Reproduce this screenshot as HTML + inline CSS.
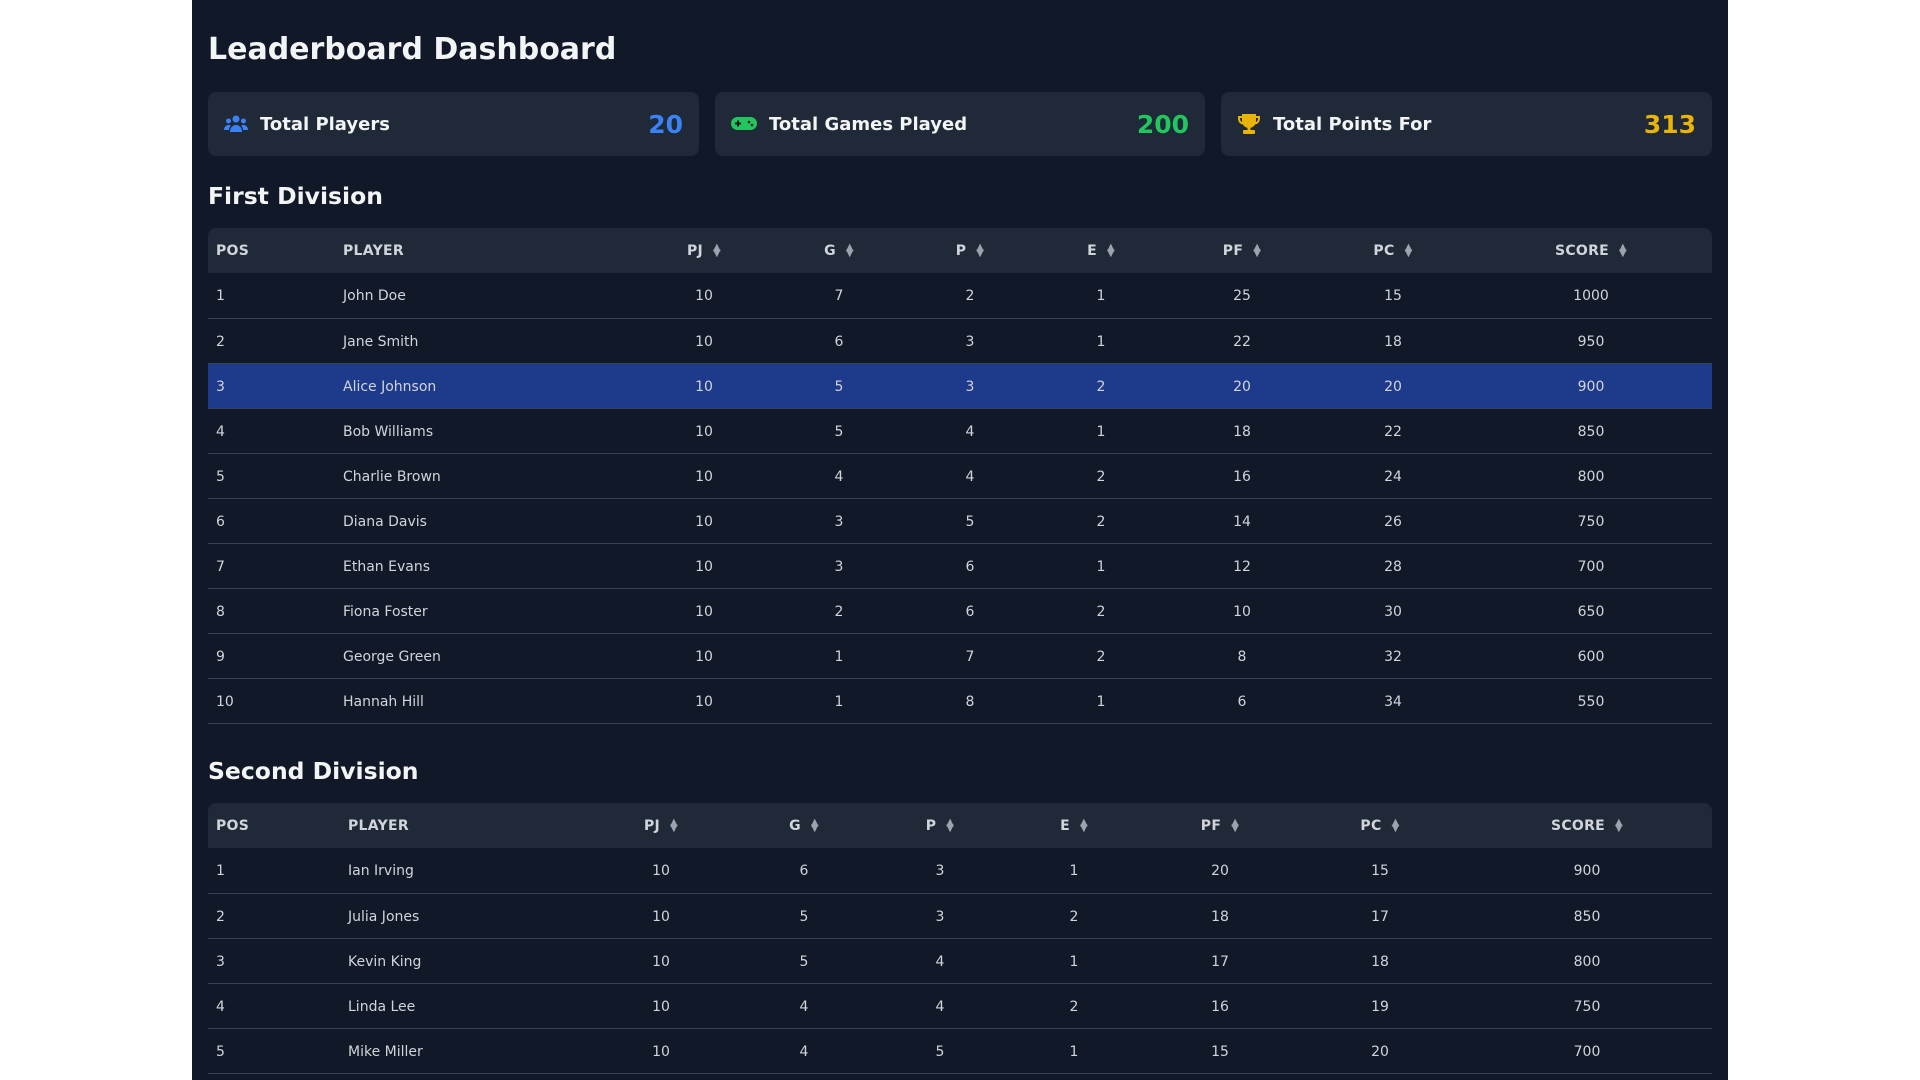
<!DOCTYPE html>
<html><head><meta charset="utf-8"><style>
*{box-sizing:border-box;margin:0;padding:0}
body{width:1920px;height:1080px;background:#fff;font-family:"DejaVu Sans","Liberation Sans",sans-serif;overflow:hidden;position:relative}
#wrap{position:absolute;left:192px;top:0;width:1536px;height:1080px;background:#111827;color:#f3f4f6}
h1{position:absolute;left:16px;top:31px;font-size:30px;font-weight:bold;line-height:38px;color:#f3f4f6}
.card{position:absolute;top:92px;height:64px;background:#1f2937;border-radius:8px;display:flex;align-items:center;padding:0 16px}
.card .lbl{font-size:18px;font-weight:bold;color:#f3f4f6;margin-left:12px;flex:1}
.card .val{font-size:25px;font-weight:bold}
h2{position:absolute;left:16px;font-size:23.5px;font-weight:bold;line-height:30px;color:#f3f4f6}
table{position:absolute;left:16px;width:1504px;border-collapse:collapse;table-layout:fixed;font-size:14px;color:#d1d5db}
thead tr{background:#1f2937}
th{height:45px;padding-top:1px;font-size:14px;font-weight:bold;text-align:center;color:#d1d5db;letter-spacing:0.3px}
th:first-child,th:nth-child(2),td:first-child,td:nth-child(2){text-align:left;padding-left:8px}
th:first-child{border-top-left-radius:8px}th:last-child{border-top-right-radius:8px}
td{height:45px;padding-top:2px;text-align:center;border-bottom:1px solid #374151}
tr.hl td{background:#1e3a8a}
.ar{display:inline-block;margin-left:10px;font-size:10px;line-height:6px;vertical-align:middle;color:#9ca3af}
</style></head><body><div id="wrap">
<h1>Leaderboard Dashboard</h1>
<div class="card" style="left:16px;width:491px">
<svg width="24" height="20" viewBox="0 0 24 20"><g fill="#3b82f6"><circle cx="12" cy="5" r="3.5"/><circle cx="4.5" cy="7" r="2.5"/><circle cx="19.5" cy="7" r="2.5"/><path d="M6 18c0-4 2.5-7 6-7s6 3 6 7z"/><path d="M0 16c0-3 2-5 4.5-5 1 0 2 .3 2.5.8C5.5 13 5 14.5 5 16z"/><path d="M24 16c0-3-2-5-4.5-5-1 0-2 .3-2.5.8 1.5 1.2 2 2.7 2 4.2z"/></g></svg>
<span class="lbl">Total Players</span><span class="val" style="color:#3b82f6">20</span></div>
<div class="card" style="left:523px;width:490px">
<svg width="26" height="16" viewBox="0 0 26 16"><rect x="0" y="1" width="26" height="13" rx="6.5" fill="#22c55e"/><rect x="4" y="6.5" width="6" height="2" fill="#111827"/><rect x="6" y="4.5" width="2" height="6" fill="#111827"/><circle cx="18" cy="6" r="1.3" fill="#111827"/><circle cx="21" cy="9" r="1.3" fill="#111827"/></svg>
<span class="lbl">Total Games Played</span><span class="val" style="color:#22c55e">200</span></div>
<div class="card" style="left:1029px;width:491px">
<svg width="24" height="24" viewBox="0 0 24 24"><g fill="#eab308"><path d="M5 2h14v7a7 7 0 0 1-14 0z"/><path d="M1 4h4v2H3c0 3 1.5 4 3 4.5v2C3 12 1 10 1 6z"/><path d="M23 4h-4v2h2c0 3-1.5 4-3 4.5v2C21 12 23 10 23 6z"/><rect x="10.5" y="14" width="3" height="4"/><rect x="6" y="18" width="12" height="4" rx="1"/></g></svg>
<span class="lbl">Total Points For</span><span class="val" style="color:#eab308">313</span></div>

<h2 style="top:181px">First Division</h2>
<table style="top:228px">
<colgroup><col style="width:127px"><col style="width:301px"><col style="width:136px"><col style="width:134px"><col style="width:128px"><col style="width:134px"><col style="width:148px"><col style="width:154px"><col style="width:242px"></colgroup>
<thead><tr><th>POS</th><th>PLAYER</th><th>PJ<span class="ar">▲<br>▼</span></th><th>G<span class="ar">▲<br>▼</span></th><th>P<span class="ar">▲<br>▼</span></th><th>E<span class="ar">▲<br>▼</span></th><th>PF<span class="ar">▲<br>▼</span></th><th>PC<span class="ar">▲<br>▼</span></th><th>SCORE<span class="ar">▲<br>▼</span></th></tr></thead>
<tbody>
<tr><td>1</td><td>John Doe</td><td>10</td><td>7</td><td>2</td><td>1</td><td>25</td><td>15</td><td>1000</td></tr>
<tr><td>2</td><td>Jane Smith</td><td>10</td><td>6</td><td>3</td><td>1</td><td>22</td><td>18</td><td>950</td></tr>
<tr class="hl"><td>3</td><td>Alice Johnson</td><td>10</td><td>5</td><td>3</td><td>2</td><td>20</td><td>20</td><td>900</td></tr>
<tr><td>4</td><td>Bob Williams</td><td>10</td><td>5</td><td>4</td><td>1</td><td>18</td><td>22</td><td>850</td></tr>
<tr><td>5</td><td>Charlie Brown</td><td>10</td><td>4</td><td>4</td><td>2</td><td>16</td><td>24</td><td>800</td></tr>
<tr><td>6</td><td>Diana Davis</td><td>10</td><td>3</td><td>5</td><td>2</td><td>14</td><td>26</td><td>750</td></tr>
<tr><td>7</td><td>Ethan Evans</td><td>10</td><td>3</td><td>6</td><td>1</td><td>12</td><td>28</td><td>700</td></tr>
<tr><td>8</td><td>Fiona Foster</td><td>10</td><td>2</td><td>6</td><td>2</td><td>10</td><td>30</td><td>650</td></tr>
<tr><td>9</td><td>George Green</td><td>10</td><td>1</td><td>7</td><td>2</td><td>8</td><td>32</td><td>600</td></tr>
<tr><td>10</td><td>Hannah Hill</td><td>10</td><td>1</td><td>8</td><td>1</td><td>6</td><td>34</td><td>550</td></tr>
</tbody></table>

<h2 style="top:756px">Second Division</h2>
<table style="top:803px">
<colgroup><col style="width:132px"><col style="width:248px"><col style="width:146px"><col style="width:140px"><col style="width:132px"><col style="width:136px"><col style="width:156px"><col style="width:164px"><col style="width:250px"></colgroup>
<thead><tr><th>POS</th><th>PLAYER</th><th>PJ<span class="ar">▲<br>▼</span></th><th>G<span class="ar">▲<br>▼</span></th><th>P<span class="ar">▲<br>▼</span></th><th>E<span class="ar">▲<br>▼</span></th><th>PF<span class="ar">▲<br>▼</span></th><th>PC<span class="ar">▲<br>▼</span></th><th>SCORE<span class="ar">▲<br>▼</span></th></tr></thead>
<tbody>
<tr><td>1</td><td>Ian Irving</td><td>10</td><td>6</td><td>3</td><td>1</td><td>20</td><td>15</td><td>900</td></tr>
<tr><td>2</td><td>Julia Jones</td><td>10</td><td>5</td><td>3</td><td>2</td><td>18</td><td>17</td><td>850</td></tr>
<tr><td>3</td><td>Kevin King</td><td>10</td><td>5</td><td>4</td><td>1</td><td>17</td><td>18</td><td>800</td></tr>
<tr><td>4</td><td>Linda Lee</td><td>10</td><td>4</td><td>4</td><td>2</td><td>16</td><td>19</td><td>750</td></tr>
<tr><td>5</td><td>Mike Miller</td><td>10</td><td>4</td><td>5</td><td>1</td><td>15</td><td>20</td><td>700</td></tr>
</tbody></table>
</div></body></html>
